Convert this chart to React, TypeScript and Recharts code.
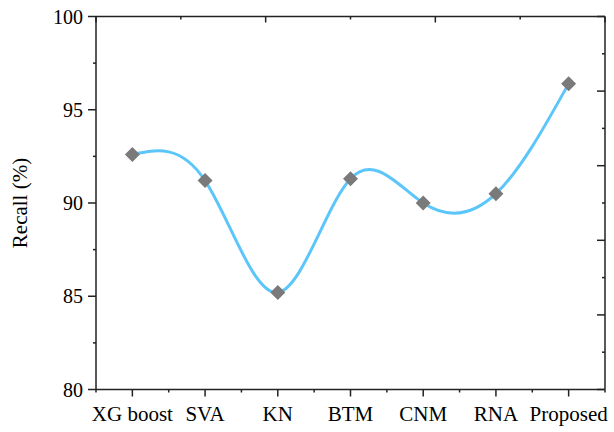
import React from 'react';
import { LineChart, Line, XAxis, YAxis } from 'recharts';

const categories = ['XG boost', 'SVA', 'KN', 'BTM', 'CNM', 'RNA', 'Proposed'];
const recall = [92.6, 91.2, 85.2, 91.3, 90.0, 90.5, 96.4];
const yTicksLeft = [80, 82.5, 85, 87.5, 90, 92.5, 95, 97.5, 100];
const yTicksRight = [80, 82, 84, 86, 88, 90, 92, 94, 96, 98, 100];
const xTicksBottom = [-0.5, 0, 0.5, 1, 1.5, 2, 2.5, 3, 3.5, 4, 4.5, 5, 5.5, 6, 6.5];
const xTicksTop = [0, 1, 2, 3, 4, 5, 6, 7, 8, 9, 10];

const data = categories.map((name, i) => ({ idx: i, name, recall: recall[i] }));

const FONT = '"Liberation Serif", "Times New Roman", serif';
const AXIS = '#222';

const LeftTick = (props: any) => {
  const { x, y, payload } = props;
  const v = payload.value;
  const major = v % 5 === 0;
  return (
    <g>
      <line x1={x} x2={x - (major ? 8 : 3)} y1={y} y2={y} stroke={AXIS} strokeWidth={1.5} />
      {major && (
        <text x={x - 13} y={y} textAnchor="end" dominantBaseline="central" fontSize={20} fontFamily={FONT} fill="#000">
          {v}
        </text>
      )}
    </g>
  );
};

const RightTick = (props: any) => {
  const { x, y, payload } = props;
  const v = payload.value;
  const major = (v - 80) % 4 === 0;
  return <line x1={x} x2={x - (major ? 8 : 3)} y1={y} y2={y} stroke={AXIS} strokeWidth={1.5} />;
};

const BottomTick = (props: any) => {
  const { x, y, payload } = props;
  const v = payload.value;
  const major = Number.isInteger(v);
  return (
    <g>
      <line x1={x} x2={x} y1={y} y2={y + (major ? 7 : 3)} stroke={AXIS} strokeWidth={1.5} />
      {major && (
        <text x={x} y={y + 31} textAnchor="middle" fontSize={21} fontFamily={FONT} fill="#000">
          {categories[v]}
        </text>
      )}
    </g>
  );
};

const TopTick = (props: any) => {
  const { x, y, payload } = props;
  const v = payload.value;
  const major = v % 2 === 0;
  return <line x1={x} x2={x} y1={y} y2={y + (major ? 6 : 3)} stroke={AXIS} strokeWidth={1.5} />;
};

const Diamond = (props: any) => {
  const { cx, cy, index } = props;
  if (cx == null || cy == null) return null;
  const r = 7.5;
  return (
    <polygon
      key={`d-${index}`}
      points={`${cx},${cy - r} ${cx + r},${cy} ${cx},${cy + r} ${cx - r},${cy}`}
      fill="#7a7a7a"
    />
  );
};

export default function App() {
  return (
    <div style={{ position: 'absolute', left: 0, top: 0, background: '#fff' }}>
      <LineChart width={614} height={432} data={data} margin={{ top: 0, right: 0, bottom: 0, left: 0 }}>
        <XAxis
          xAxisId="main"
          dataKey="idx"
          type="number"
          orientation="bottom"
          domain={[-0.5, 6.5]}
          allowDataOverflow
          ticks={xTicksBottom}
          interval={0}
          height={42.5}
          tickSize={0}
          tickMargin={0}
          tickLine={false}
          axisLine={{ stroke: AXIS, strokeWidth: 1.5 }}
          tick={BottomTick}
        />
        <XAxis
          xAxisId="top"
          type="number"
          orientation="top"
          domain={[0, 10]}
          allowDataOverflow
          ticks={xTicksTop}
          interval={0}
          height={16.5}
          tickSize={0}
          tickMargin={0}
          tickLine={false}
          axisLine={{ stroke: AXIS, strokeWidth: 1.5 }}
          tick={TopTick}
        />
        <YAxis
          yAxisId="left"
          type="number"
          orientation="left"
          domain={[80, 100]}
          allowDataOverflow
          ticks={yTicksLeft}
          interval={0}
          width={96}
          tickSize={0}
          tickMargin={0}
          tickLine={false}
          axisLine={{ stroke: AXIS, strokeWidth: 1.5 }}
          tick={LeftTick}
          label={{
            value: 'Recall (%)',
            angle: -90,
            position: 'insideLeft',
            offset: 0,
            style: { fontSize: 21, fontFamily: FONT, fill: '#000', textAnchor: 'middle' },
            dx: 20,
          }}
        />
        <YAxis
          yAxisId="right"
          type="number"
          orientation="right"
          domain={[80, 100]}
          allowDataOverflow
          ticks={yTicksRight}
          interval={0}
          width={9}
          tickSize={0}
          tickMargin={0}
          tickLine={false}
          axisLine={{ stroke: AXIS, strokeWidth: 1.5 }}
          tick={RightTick}
        />
        <Line
          xAxisId="main"
          yAxisId="left"
          type="natural"
          dataKey="recall"
          stroke="#5cc6fa"
          strokeWidth={3}
          dot={Diamond}
          activeDot={false}
          isAnimationActive={false}
        />
      </LineChart>
    </div>
  );
}
